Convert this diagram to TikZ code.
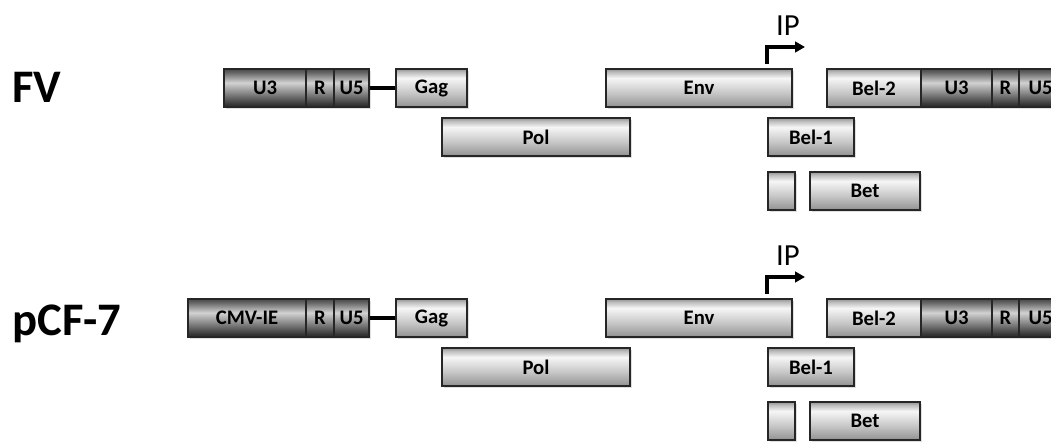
\documentclass[tikz,border=0pt]{standalone}
\usepackage{fontspec}
\setmainfont{Carlito}
\usetikzlibrary{arrows.meta,shadows}

\definecolor{lbA}{HTML}{808080}
\definecolor{lbB}{HTML}{9A9A9A}
\definecolor{lbC}{HTML}{C8C8C8}
\definecolor{lbD}{HTML}{F6F6F6}
\definecolor{lbE}{HTML}{BDBDBD}
\definecolor{lbF}{HTML}{959595}
\definecolor{dbA}{HTML}{262626}
\definecolor{dbB}{HTML}{3C3C3C}
\definecolor{dbC}{HTML}{D2D2D2}
\definecolor{dbD}{HTML}{6A6A6A}
\definecolor{dbE}{HTML}{4A4A4A}

\pgfdeclareverticalshading{lightbar}{100bp}{color(0bp)=(lbA); color(25bp)=(lbA); color(28bp)=(lbB); color(44bp)=(lbC); color(63bp)=(lbD); color(71bp)=(lbE); color(75bp)=(lbF); color(100bp)=(lbF)}
\pgfdeclareverticalshading{darkbar}{100bp}{color(0bp)=(dbA); color(25bp)=(dbA); color(30bp)=(dbB); color(57bp)=(dbC); color(70bp)=(dbD); color(75bp)=(dbE); color(100bp)=(dbE)}

\tikzset{
  seg/.style={draw=black!85, line width=0.8pt, minimum height=28.5pt, inner sep=0pt,
    font=\bfseries\fontsize{15.5}{15.5}\selectfont,
    drop shadow={shadow xshift=1.2pt, shadow yshift=-1.5pt, opacity=0.25}},
  light/.style={seg, shade, shading=lightbar},
  dark/.style={seg, shade, shading=darkbar},
  seqname/.style={anchor=base west, inner sep=0pt, font=\bfseries\fontsize{35}{35}\selectfont},
}

\begin{document}
\begin{tikzpicture}[x=0.75pt, y=-0.75pt]
	\useasboundingbox (0,0) rectangle (1051,442);
	
	\node[seqname] (fvname) at (12,103) {FV};
	\node[seqname] (cfname) at (12,335) {pCF-7};
	
	% 5' LTR
	\node[dark, minimum width={(306-224)*0.75pt}] (fvu3) at (265,88) {U3};
	\node[dark, minimum width={(306-188)*0.75pt}] (cfu3) at (247,318) {CMV-IE};
	
	\foreach \p/\dy in {fv/0, cf/230}
	{
		\foreach \n/\xa/\xb/\y/\lab/\s in {r/306/334/88/R/dark, u5/334/369/88/U5/dark,
			gag/396/467/88/Gag/light, pol/442/630/137/Pol/light, env/606/792/88/Env/light,
			belone/768/854/137/Bel-1/light, betex/768/795/191//light, bet/810/920/191/Bet/light,
			beltwo/827/921/88/Bel-2/light, u3r/921/992/88/U3/dark, rr/992/1019/88/R/dark,
			u5r/1019/1062/88/U5/dark}
		{
			\node[\s, minimum width={(\xb-\xa)*0.75pt}] (\p\n) at ({(\xa+\xb)/2}, \y+\dy) {\lab};
		}
		\draw[line width=3.3pt] (\p u5.east) -- (\p gag.west);
		
		% internal promoter
		\coordinate (\p-ipfoot) at (767, 64+\dy);
		\coordinate (\p-iptip) at (805, 47+\dy);
		\draw[line width=2.6pt, -{Triangle[length=7.5pt, width=8pt]}] (\p-ipfoot) |- (\p-iptip);
		\node[inner sep=0pt, font=\fontsize{23}{23}\selectfont] (\p-iplab) at (788, 26+\dy) {IP};
	}
\end{tikzpicture}
\end{document}
